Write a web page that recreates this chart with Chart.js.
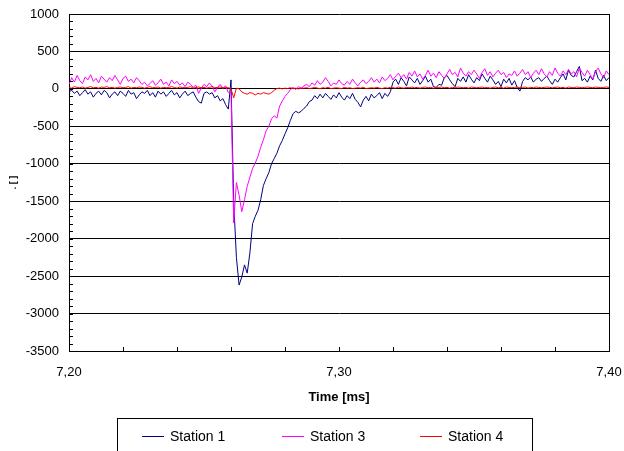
<!DOCTYPE html>
<html><head><meta charset="utf-8">
<script src="https://cdn.jsdelivr.net/npm/chart.js@4"></script>
<style>html,body{margin:0;padding:0;background:#fff;}</style>
</head><body>
<canvas id="c" width="624" height="451"></canvas>
<script>
const T_START = 7.200;
const T_STEP = 0.001;
const seriesNames = ['Station 1', 'Station 3', 'Station 4'];
const xTickValues = [7.20, 7.30, 7.40];
const xTickLabels = ['7,20', '7,30', '7,40'];
const yTitle = '. [ ]';
const xTitle = 'Time [ms]';

const station1 = [
-40,-20,-60,-30,-90,-50,-10,-70,-40,-110,
-60,-30,-80,-20,-50,-120,-70,-40,-90,-30,
-60,-100,-20,-70,-50,-130,-80,-40,-60,-20,
-90,-50,-110,-30,-70,-40,-100,-60,-20,-80,
-50,-120,-70,-30,-90,-60,-40,-110,-170,-190,
-60,-40,-70,-50,-120,-90,-160,-130,-210,-270,
120,-1500,-2250,-2620,-2510,-2350,-2460,-2190,-1800,-1700,
-1620,-1480,-1290,-1200,-1120,-1000,-930,-860,-760,-690,
-600,-520,-420,-330,-300,-320,-300,
-260,-230,-170,-150,-90,-130,-70,-120,-60,-100,
-140,-80,-120,-50,-110,-150,-90,-130,-60,-140,
-180,-240,-150,-100,-160,-70,-120,-90,-50,-130,
-60,-100,-40,90,130,60,150,100,40,160,
120,80,140,60,110,170,90,130,30,20,
60,50,150,180,120,70,30,140,100,160,
90,190,130,80,150,110,200,140,90,170,
120,60,100,30,130,80,140,50,110,20,
-30,100,150,120,160,90,130,150,100,140,
170,110,60,130,90,150,200,120,250,180,
160,230,300,110,140,90,170,120,250,140,
100,180,110,150
];
const station3 = [
60,150,90,180,110,70,160,120,190,100,
140,80,170,130,90,150,110,180,120,60,
140,170,100,130,80,150,110,60,90,40,
70,110,50,80,130,60,90,40,120,70,
100,50,80,30,90,60,20,50,-60,10,
60,30,80,40,-40,20,60,10,40,-50,
-60,-1790,-1250,-1420,-1640,-1480,-1300,-1180,-1060,-990,
-900,-780,-680,-560,-500,-400,-360,-390,-230,-160,
-100,-60,-10,20,-10,30,10,
40,60,30,80,50,110,60,90,150,100,
40,80,60,120,70,50,100,60,130,80,
40,90,120,70,100,150,90,130,80,160,
110,140,190,120,170,210,150,190,130,220,
170,240,160,200,130,180,250,170,210,150,
230,180,140,200,260,190,220,160,280,210,
170,230,190,250,200,140,220,270,180,230,
160,210,250,190,220,150,200,180,240,170,
210,260,190,230,150,210,250,190,270,200,
160,230,180,280,210,170,240,190,260,200,
230,160,280,220,170,250,190,130,230,280,
200,150,240,190
];
const station4 = [
20,10,30,20,15,25,10,20,30,15,
20,10,25,20,30,15,20,10,20,25,
15,20,30,10,20,15,25,20,10,20,
30,15,20,25,10,20,15,20,30,20,
10,25,20,15,20,30,10,20,25,15,
20,10,20,30,15,20,25,10,20,15,
0,-120,10,0,-40,-60,-70,-50,-60,-80,
-60,-70,-50,-60,-70,-50,-20,5,10,0,
10,5,15,5,10,0,10,
10,15,5,10,20,10,5,15,10,20,
5,10,15,10,5,20,10,15,5,10,
15,10,20,5,10,15,10,20,10,5,
15,10,20,15,10,25,15,10,20,15,
25,15,20,10,20,25,15,20,10,15,
20,25,15,20,10,20,15,25,20,15,
20,10,25,20,15,20,25,15,20,10,
20,25,15,20,10,25,20,15,20,25,
15,20,25,10,20,15,25,20,15,20,
25,20,15,20,25,15,20,10,25,20,
15,25,20,15,20,25,20,15,25,20,
15,20,25,20
];

const FONT = 'Liberation Sans, Arial, sans-serif';
const toPoints = arr => arr.map((v, i) => ({ x: T_START + i * T_STEP, y: v }));

const decor = {
  id: 'decor',
  afterDraw(chart) {
    const { ctx, chartArea: a, scales: { x, y } } = chart;
    ctx.save();
    ctx.strokeStyle = '#000';
    ctx.lineWidth = 1;
    ctx.beginPath();
    for (let v = y.min; v <= y.max; v += 100) {
      const py = Math.round(y.getPixelForValue(v)) + 0.5;
      ctx.moveTo(a.left, py); ctx.lineTo(a.left + 4, py);
    }
    for (let k = 0; k <= 10; k++) {
      const px = Math.round(x.getPixelForValue(x.min + k * 0.02)) + 0.5;
      ctx.moveTo(px, a.bottom); ctx.lineTo(px, a.bottom - 4);
    }
    const rx = Math.round(a.right) + 0.5;
    ctx.moveTo(rx, a.top); ctx.lineTo(rx, a.bottom);
    ctx.stroke();
    // legend box
    ctx.strokeRect(117.5, 418.5, 415, 60);
    const lx = [142, 282, 420];
    chart.data.datasets.forEach((ds, i) => {
      ctx.strokeStyle = ds.borderColor;
      ctx.lineWidth = 1;
      ctx.beginPath();
      ctx.moveTo(lx[i], 436.5); ctx.lineTo(lx[i] + 22, 436.5);
      ctx.stroke();
      ctx.fillStyle = '#000';
      ctx.font = '14px ' + FONT;
      ctx.textBaseline = 'middle';
      ctx.textAlign = 'left';
      ctx.fillText(ds.label, lx[i] + 28, 437);
    });
    ctx.restore();
  }
};

new Chart(document.getElementById('c'), {
  type: 'line',
  data: {
    datasets: [
      { label: seriesNames[0], data: toPoints(station1), borderColor: '#000080', order: 2 },
      { label: seriesNames[1], data: toPoints(station3), borderColor: '#FF00FF', order: 1 },
      { label: seriesNames[2], data: toPoints(station4), borderColor: '#FF0000', order: 0 }
    ]
  },
  options: {
    responsive: false,
    animation: false,
    devicePixelRatio: 1,
    layout: { padding: { top: 14, right: 15, left: 0, bottom: 0 } },
    elements: { point: { radius: 0 }, line: { borderWidth: 1, tension: 0 } },
    plugins: { legend: { display: false }, tooltip: { enabled: false } },
    scales: {
      x: {
        type: 'linear', min: 7.2, max: 7.4,
        afterBuildTicks(s) { s.ticks = xTickValues.map(v => ({ value: v })); },
        ticks: { callback: (v, i) => xTickLabels[i], color: '#000', font: { family: FONT, size: 13 }, padding: 14, maxRotation: 0, autoSkip: false },
        grid: { display: false, drawTicks: false },
        border: { display: true, color: '#000', width: 1 },
        title: { display: true, text: xTitle, color: '#000', font: { family: FONT, size: 13, weight: 'bold' }, padding: { top: 0, bottom: 46 } },
        afterFit(s) { s.height = 100; s.paddingLeft = 0; s.paddingRight = 0; }
      },
      y: {
        type: 'linear', min: -3500, max: 1000,
        ticks: { stepSize: 500, callback: v => String(v), color: '#000', font: { family: FONT, size: 13 }, padding: 10 },
        grid: { color: '#000', lineWidth: 1, drawTicks: false },
        border: { display: true, color: '#000', width: 1 },
        title: { display: true, text: yTitle, color: '#000', font: { family: FONT, size: 9, weight: 'bold' }, padding: { top: 8, bottom: 0 } },
        afterFit(s) { s.width = 69; s.paddingTop = 0; s.paddingBottom = 0; }
      }
    }
  },
  plugins: [decor]
});
</script>
</body></html>
